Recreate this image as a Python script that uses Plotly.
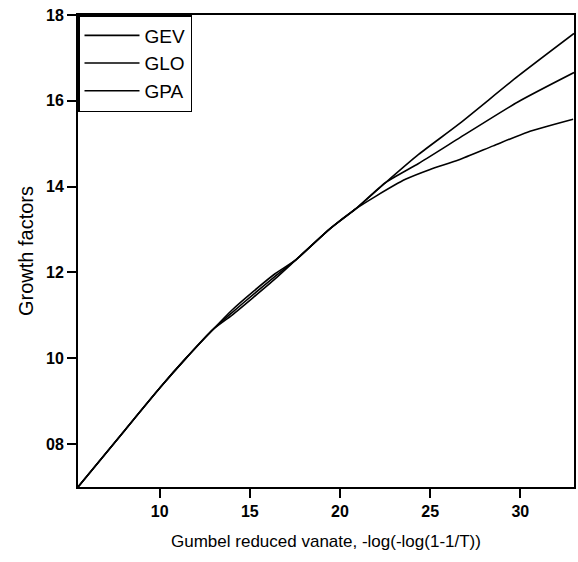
import plotly.graph_objects as go

# Gumbel reduced variate (x) and growth factors (y)
gev_x = [0.547, 0.80, 1.005, 1.15, 1.293, 1.40, 1.52, 1.64, 1.757, 1.939, 2.087, 2.252, 2.436, 2.657, 2.989, 3.298]
gev_y = [0.700, 0.829, 0.933, 1.002, 1.066, 1.100, 1.142, 1.185, 1.230, 1.300, 1.348, 1.409, 1.475, 1.545, 1.658, 1.757]

glo_x = [0.547, 0.80, 1.005, 1.15, 1.293, 1.40, 1.52, 1.64, 1.757, 1.939, 2.087, 2.252, 2.436, 2.657, 2.989, 3.298]
glo_y = [0.700, 0.829, 0.933, 1.002, 1.066, 1.106, 1.149, 1.191, 1.230, 1.300, 1.348, 1.409, 1.454, 1.512, 1.598, 1.666]

gpa_x = [0.547, 0.80, 1.005, 1.15, 1.293, 1.40, 1.52, 1.64, 1.757, 1.939, 2.087, 2.20, 2.363, 2.50, 2.657, 2.85, 3.04, 3.293]
gpa_y = [0.700, 0.829, 0.933, 1.002, 1.066, 1.112, 1.156, 1.197, 1.230, 1.300, 1.348, 1.378, 1.417, 1.440, 1.462, 1.495, 1.527, 1.557]

x_tickvals = [1.0, 1.5, 2.0, 2.5, 3.0]
x_ticktext = ["10", "15", "20", "25", "30"]
y_tickvals = [0.8, 1.0, 1.2, 1.4, 1.6, 1.8]
y_ticktext = ["08", "10", "12", "14", "16", "18"]

FONT = "Liberation Sans, Arial, sans-serif"

fig = go.Figure()
for name, xs, ys in [("GEV", gev_x, gev_y), ("GLO", glo_x, glo_y), ("GPA", gpa_x, gpa_y)]:
    fig.add_trace(go.Scatter(x=xs, y=ys, mode="lines", name=name,
                             line=dict(color="black", width=1.6, shape="spline", smoothing=0.6)))

axis_common = dict(showline=True, linecolor="black", linewidth=2, mirror=True,
                   ticks="outside", ticklen=9, tickwidth=1.5, tickcolor="black",
                   showgrid=False, zeroline=False,
                   tickfont=dict(family=FONT, size=16, color="black", weight="bold"))

fig.update_layout(
    width=578, height=562,
    margin=dict(l=78, r=2, t=15, b=75),
    paper_bgcolor="white", plot_bgcolor="white",
    font=dict(family=FONT, color="black"),
    showlegend=True,
    legend=dict(x=0, y=1, xanchor="left", yanchor="top",
                bordercolor="black", borderwidth=1.5, bgcolor="white",
                font=dict(family=FONT, size=19, color="black"),
                itemwidth=55, tracegroupgap=0),
    xaxis=dict(range=[0.547, 3.298], tickvals=x_tickvals, ticktext=x_ticktext,
               title=dict(text="Gumbel reduced vanate, -log(-log(1-1/T))",
                          font=dict(family=FONT, size=17, color="black"), standoff=16),
               **axis_common),
    yaxis=dict(range=[0.7, 1.8], tickvals=y_tickvals, ticktext=y_ticktext,
               title=dict(text="Growth factors",
                          font=dict(family=FONT, size=20, color="black"), standoff=7),
               **axis_common),
)

fig.write_html("out.html")
